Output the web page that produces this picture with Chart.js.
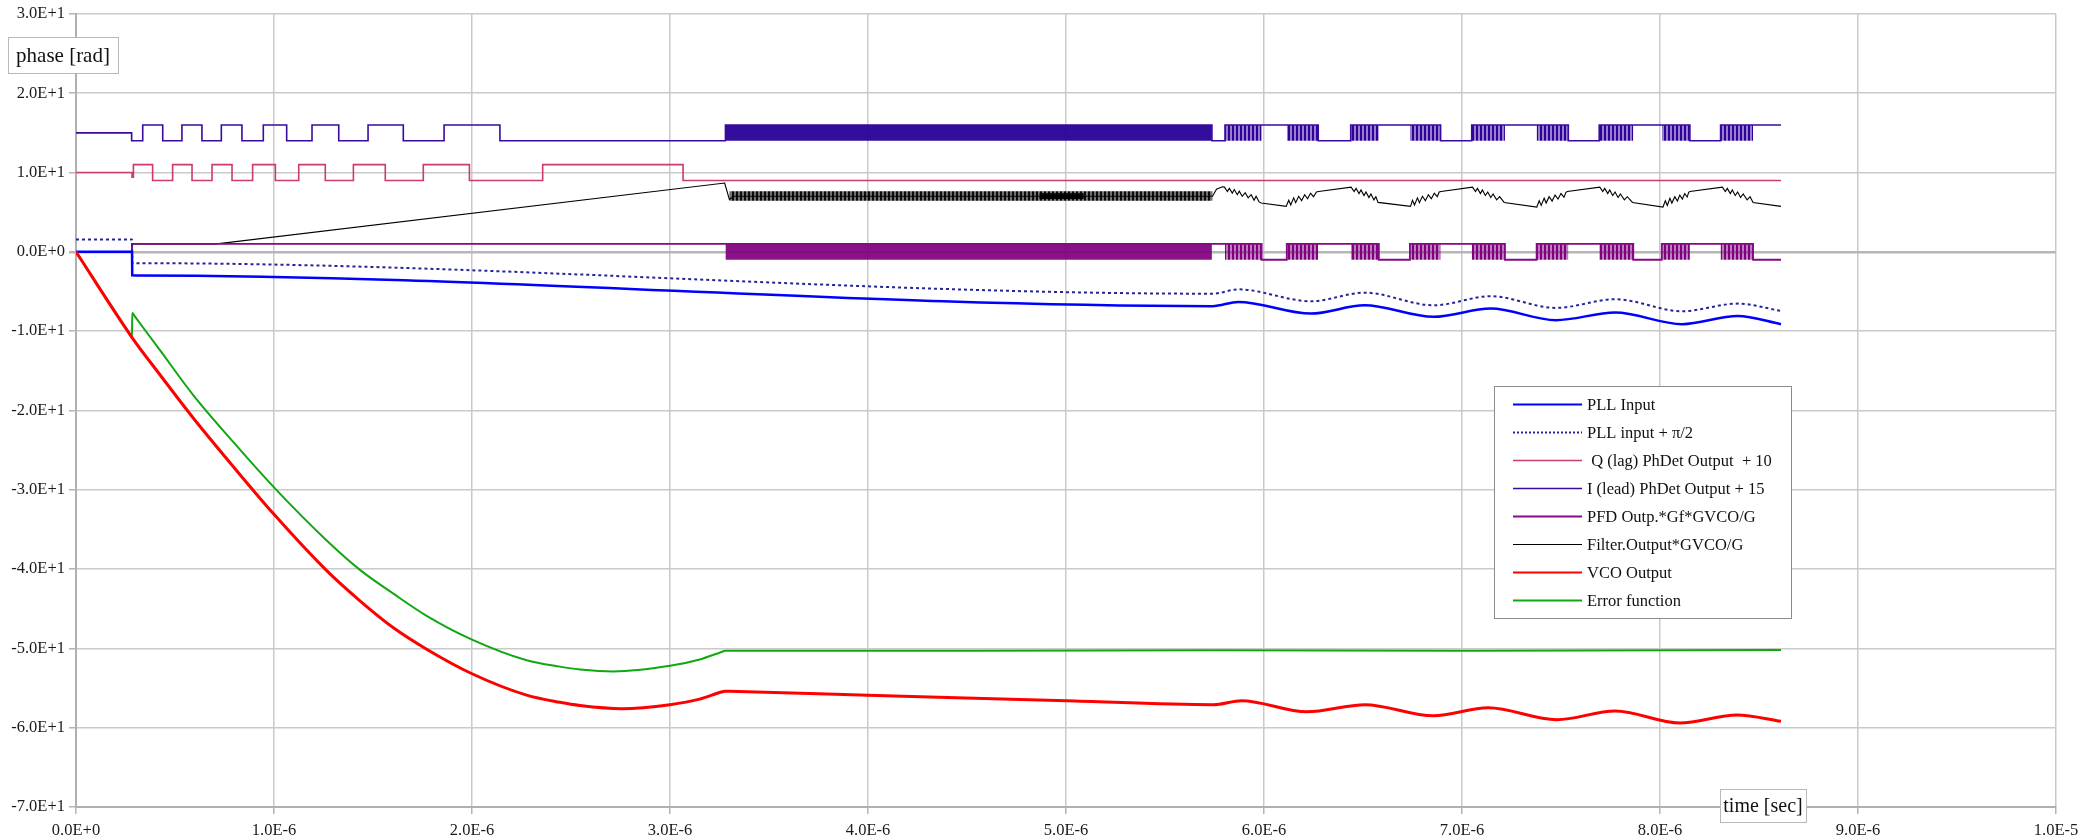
<!DOCTYPE html>
<html>
<head>
<meta charset="utf-8">
<script src="https://cdn.jsdelivr.net/npm/chart.js@4.4.1/dist/chart.umd.min.js"></script>
<style>
  html, body { margin: 0; padding: 0; background: #fff; }
  #wrap { width: 2100px; height: 840px; }
</style>
</head>
<body>
<div id="wrap"><canvas id="myChart"></canvas></div>
<script>
// time values in microseconds, phase in rad

// axis ticks
const xTicks = [0, 1, 2, 3, 4, 5, 6, 7, 8, 9, 10];
const yTicks = [30, 20, 10, 0, -10, -20, -30, -40, -50, -60, -70];

// PLL Input
const pllT = [0, 0.283, 0.284, 0.30, 5.74, 5.87, 6.237, 6.508, 6.856, 7.145, 7.474, 7.774, 8.112, 8.392, 8.611];
const pllV = [0, 0, -2.96, -2.97, -6.85, -6.32, -7.79, -6.74, -8.2, -7.16, -8.62, -7.66, -9.12, -8.08, -9.12];

// PLL input + pi/2
const pllQT = [0, 0.283, 0.284, 0.30, 5.74, 5.87, 6.237, 6.508, 6.856, 7.145, 7.474, 7.774, 8.112, 8.392, 8.611];
const pllQV = [1.57, 1.57, -1.42, -1.43, -5.28, -4.73, -6.23, -5.15, -6.74, -5.6, -7.07, -5.98, -7.49, -6.53, -7.45];

// Q (lag) phase detector + 10 (value holds until next time)
const qLagT = [0, 0.283, 0.290, 0.387, 0.488, 0.586, 0.687, 0.788, 0.892, 1.007, 1.125, 1.259, 1.401, 1.562, 1.754, 1.987, 2.357, 3.066, 8.611];
const qLagV = [10, 9.4, 11, 9, 11, 9, 11, 9, 11, 9, 11, 9, 11, 9, 11, 9, 11, 9, 9];

// I (lead) phase detector + 15
const iLeadT = [0, 0.281, 0.337, 0.438, 0.535, 0.636, 0.734, 0.838, 0.946, 1.064, 1.192, 1.327, 1.475, 1.653, 1.859, 2.141,
                3.28, 5.737, 5.803, 6.274, 6.438, 6.892, 7.049, 7.537, 7.693, 8.151, 8.306, 8.611];
const iLeadV = [15, 14, 16, 14, 16, 14, 16, 14, 16, 14, 16, 14, 16, 14, 16, 14,
                16, 14, 16, 14, 16, 14, 16, 14, 16, 14, 16, 16];

// PFD output
const pfdT = [0, 0.283, 5.988, 6.115, 6.58, 6.737, 7.217, 7.377, 7.865, 8.009, 8.47, 8.611];
const pfdV = [0, 1, -1, 1, -1, 1, -1, 1, -1, 1, -1, -1];

// fast toggling spans shared by I (lead) and PFD (first one is the long dense run)
const burstStart = [3.28, 5.803, 6.115, 6.438, 6.737, 7.049, 7.377, 7.693, 8.009, 8.306];
const burstEnd   = [5.737, 5.988, 6.274, 6.58, 6.892, 7.217, 7.537, 7.865, 8.151, 8.47];

// Filter output
const filterT = [0, 0.282, 0.283, 0.711, 3.276, 3.30, 3.32, 5.74, 5.76, 5.79, 5.80,
  5.815, 5.825, 5.84, 5.85, 5.865, 5.875, 5.89, 5.905, 5.92, 5.935, 5.95, 5.96, 5.975, 5.986,
  6.112, 6.125, 6.135, 6.15, 6.16, 6.175, 6.19, 6.205, 6.22, 6.235, 6.25, 6.265, 6.276,
  6.44, 6.455, 6.465, 6.48, 6.49, 6.505, 6.515, 6.53, 6.54, 6.555, 6.565, 6.576,
  6.74, 6.75, 6.76, 6.775, 6.785, 6.80, 6.815, 6.83, 6.845, 6.86, 6.875, 6.885, 6.894,
  7.053, 7.068, 7.078, 7.093, 7.103, 7.118, 7.13, 7.145, 7.157, 7.175, 7.19, 7.213,
  7.378, 7.39, 7.40, 7.415, 7.425, 7.44, 7.455, 7.47, 7.485, 7.50, 7.515, 7.525, 7.532,
  7.696, 7.711, 7.721, 7.736, 7.746, 7.761, 7.773, 7.788, 7.80, 7.82, 7.835, 7.861,
  8.015, 8.027, 8.037, 8.05, 8.06, 8.075, 8.088, 8.10, 8.113, 8.125, 8.137, 8.145, 8.151,
  8.315, 8.33, 8.34, 8.355, 8.365, 8.38, 8.392, 8.407, 8.42, 8.44, 8.455, 8.47, 8.611];
const filterV = [0, 0, 1, 1, 8.67, 6.6, 7.0, 7.0, 7.9, 8.2, 8.16,
  7.6, 8.0, 7.4, 7.85, 7.2, 7.65, 7.0, 7.45, 6.8, 7.2, 6.5, 7.0, 6.3, 6.15,
  5.73, 6.5, 5.9, 6.8, 6.2, 7.0, 6.45, 7.2, 6.7, 7.4, 6.95, 7.55, 7.6,
  8.16, 7.6, 8.0, 7.35, 7.8, 7.1, 7.55, 6.85, 7.3, 6.55, 6.95, 6.23,
  5.73, 6.5, 5.9, 6.8, 6.2, 7.0, 6.45, 7.2, 6.7, 7.4, 6.95, 7.55, 7.6,
  8.16, 7.6, 8.0, 7.35, 7.8, 7.1, 7.55, 6.85, 7.3, 6.55, 6.95, 6.23,
  5.65, 6.45, 5.85, 6.75, 6.15, 6.95, 6.4, 7.15, 6.65, 7.35, 6.9, 7.5, 7.6,
  8.16, 7.6, 8.0, 7.35, 7.8, 7.1, 7.55, 6.85, 7.3, 6.55, 6.95, 6.23,
  5.65, 6.45, 5.85, 6.75, 6.15, 6.95, 6.4, 7.15, 6.65, 7.35, 6.9, 7.5, 7.6,
  8.16, 7.6, 8.0, 7.35, 7.8, 7.1, 7.55, 6.85, 7.3, 6.55, 6.95, 6.23, 5.73];

// noisy part of the filter output: span, upper and lower level
const filterBandStart = [3.30, 4.865];
const filterBandEnd = [5.74, 5.09];
const filterBandTop = [7.65, 7.4];
const filterBandBottom = [6.45, 6.65];

// VCO Output
const vcoT = [0, 0.284, 0.424, 0.593, 0.795, 1.0, 1.266, 1.434, 1.603, 1.771, 2.0, 2.276, 2.444, 2.545, 2.756, 3.0, 3.15, 3.26, 3.278, 3.30,
              4.0, 5.0, 5.744, 5.887, 6.216, 6.51, 6.855, 7.133, 7.478, 7.774, 8.1, 8.39, 8.611];
const vcoV = [0, -10.84, -15.5, -20.98, -27.1, -33.1, -40.2, -44.0, -47.4, -50.1, -53.2, -55.9, -56.8, -57.2, -57.6, -57.1, -56.4, -55.5, -55.4, -55.42,
              -55.9, -56.6, -57.1, -56.6, -58.0, -57.1, -58.5, -57.5, -59.0, -57.9, -59.4, -58.4, -59.2];

// Error function
const errT = [0, 0.275, 0.283, 0.284, 0.30, 0.424, 0.593, 0.795, 1.0, 1.266, 1.434, 1.603, 1.771, 2.0, 2.276, 2.444, 2.545, 2.714, 3.0, 3.15, 3.26, 3.278, 3.30, 4.5, 5.75, 7.0, 8.611];
const errV = [0, -10.5, -10.8, -7.7, -8.24, -12.4, -18.1, -24.0, -29.7, -36.4, -40.1, -43.1, -45.9, -48.9, -51.5, -52.3, -52.65, -52.9, -52.2, -51.4, -50.45, -50.3, -50.3, -50.3, -50.25, -50.3, -50.2];

const pts = (ts, vs) => ts.map((t, i) => ({ x: t, y: vs[i] }));
const bandPts = (starts, ends, top) => {
  const out = [];
  starts.forEach((s, i) => {
    const lv = Array.isArray(top) ? top[i] : top;
    out.push({ x: s, y: lv }, { x: ends[i], y: lv }, { x: ends[i] + 0.0001, y: null });
  });
  return out;
};

// striped fill that looks like fast toggling
function stripes(color, light) {
  const c = document.createElement('canvas');
  c.width = 4; c.height = 4;
  const g = c.getContext('2d');
  g.fillStyle = light;
  g.fillRect(0, 0, 4, 4);
  g.fillStyle = color;
  g.fillRect(0, 0, 2, 4);
  return g.createPattern(c, 'repeat');
}

const FONT = '"Liberation Serif", "DejaVu Serif", serif';

const series = [
  { label: 'PLL Input', color: '#0000ff', width: 2.5, dash: [] },
  { label: 'PLL input + \u03c0/2', color: '#24249a', width: 2, dash: [3, 3] },
  { label: ' Q (lag) PhDet Output  + 10', color: '#cc3a70', width: 1.6, dash: [] },
  { label: 'I (lead) PhDet Output + 15', color: '#3a0aa0', width: 1.6, dash: [] },
  { label: 'PFD Outp.*Gf*GVCO/G', color: '#850a85', width: 1.8, dash: [] },
  { label: 'Filter.Output*GVCO/G', color: '#000000', width: 1.1, dash: [] },
  { label: 'VCO Output', color: '#ff0000', width: 3, dash: [] },
  { label: 'Error function', color: '#10a810', width: 2, dash: [] }
];

function lineDs(idx, data, extra) {
  const s = series[idx];
  return Object.assign({
    label: s.label,
    data: data,
    borderColor: s.color,
    borderWidth: s.width,
    borderDash: s.dash,
    pointRadius: 0,
    fill: false,
    tension: 0
  }, extra || {});
}

function bandDs(data, bg, base, order) {
  return { label: 'band', data: data, borderWidth: 0, pointRadius: 0, backgroundColor: bg,
           fill: { value: base }, spanGaps: false, order: order };
}

const denseS = burstStart.slice(0, 1), denseE = burstEnd.slice(0, 1);
const shortS = burstStart.slice(1), shortE = burstEnd.slice(1);

const datasets = [
  lineDs(6, pts(vcoT, vcoV), { cubicInterpolationMode: 'monotone', order: 0 }),
  lineDs(7, pts(errT, errV), { cubicInterpolationMode: 'monotone', order: 1 }),
  lineDs(0, pts(pllT, pllV), { cubicInterpolationMode: 'monotone', order: 2 }),
  lineDs(1, pts(pllQT, pllQV), { cubicInterpolationMode: 'monotone', order: 3 }),
  lineDs(4, pts(pfdT, pfdV), { stepped: true, order: 4 }),
  bandDs(bandPts(denseS, denseE, 1), 'rgba(128,0,128,0.93)', -1, 5),
  bandDs(bandPts(shortS, shortE, 1), stripes('#800080', 'rgba(128,0,128,0.5)'), -1, 5),
  lineDs(5, pts(filterT, filterV), { order: 6 }),
  bandDs(bandPts(filterBandStart.slice(0, 1), filterBandEnd.slice(0, 1), filterBandTop.slice(0, 1)), stripes('rgba(0,0,0,0.9)', 'rgba(0,0,0,0.55)'), filterBandBottom[0], 7),
  bandDs(bandPts(filterBandStart.slice(1), filterBandEnd.slice(1), filterBandTop.slice(1)), 'rgba(0,0,0,0.95)', filterBandBottom[1], 7),
  lineDs(3, pts(iLeadT, iLeadV), { stepped: true, order: 8 }),
  bandDs(bandPts(denseS, denseE, 16), 'rgba(40,0,150,0.95)', 14, 9),
  bandDs(bandPts(shortS, shortE, 16), stripes('#30009a', 'rgba(48,0,154,0.5)'), 14, 9),
  lineDs(2, pts(qLagT, qLagV), { stepped: true, order: 10 })
];

// boxes for axis titles and the legend
const boxesPlugin = {
  id: 'boxes',
  afterDraw(chart) {
    const ctx = chart.ctx;
    ctx.save();
    function textBox(text, x, y, w, h, size) {
      ctx.fillStyle = '#ffffff';
      ctx.fillRect(x, y, w, h);
      ctx.strokeStyle = '#b8b8b8';
      ctx.lineWidth = 1;
      ctx.strokeRect(x + 0.5, y + 0.5, w, h);
      ctx.fillStyle = '#111';
      ctx.font = size + 'px ' + FONT;
      ctx.textBaseline = 'middle';
      ctx.textAlign = 'center';
      ctx.fillText(text, x + w / 2, y + h / 2 + 1);
    }
    textBox('phase [rad]', 8, 37, 110, 36, 21);
    textBox('time [sec]', 1720, 789, 86, 33, 20);

    // legend
    const lx = 1494, ly = 386, lw = 297, lh = 232;
    ctx.fillStyle = '#ffffff';
    ctx.fillRect(lx, ly, lw, lh);
    ctx.strokeStyle = '#8c8c8c';
    ctx.lineWidth = 1;
    ctx.strokeRect(lx + 0.5, ly + 0.5, lw, lh);
    ctx.font = '16.5px ' + FONT;
    ctx.textAlign = 'left';
    ctx.textBaseline = 'middle';
    series.forEach((s, i) => {
      const y = 404.5 + i * 28;
      ctx.beginPath();
      ctx.strokeStyle = s.color;
      ctx.lineWidth = Math.min(s.width, 2.2);
      ctx.setLineDash(s.dash.length ? [2, 2] : []);
      ctx.moveTo(1513, y);
      ctx.lineTo(1582, y);
      ctx.stroke();
      ctx.setLineDash([]);
      ctx.fillStyle = '#111';
      ctx.fillText(s.label, 1587, y + 1);
    });
    ctx.restore();
  }
};

const config = {
  type: 'line',
  data: { datasets: datasets },
  options: {
    responsive: true,
    maintainAspectRatio: false,
    animation: false,
    layout: { padding: { left: 0, right: 44, top: 11, bottom: 0 } },
    plugins: {
      legend: { display: false },
      tooltip: { enabled: false }
    },
    scales: {
      x: {
        type: 'linear',
        min: 0,
        max: 10,
        afterFit: (s) => { s.height = 33; },
        afterBuildTicks: (s) => { s.ticks = xTicks.map(v => ({ value: v })); },
        ticks: {
          autoSkip: false,
          maxRotation: 0,
          padding: 7,
          color: '#1a1a1a',
          font: { family: FONT, size: 16.5 },
          callback: (v) => (v * 1e-6).toExponential(1).toUpperCase()
        },
        grid: { color: '#cacaca', lineWidth: 1.5, tickLength: 7, tickColor: '#b4b4b4' },
        border: { color: '#b0b0b0', width: 2 }
      },
      y: {
        type: 'linear',
        min: -70,
        max: 30,
        afterFit: (s) => { s.width = 76; },
        afterBuildTicks: (s) => { s.ticks = yTicks.map(v => ({ value: v })); },
        ticks: {
          padding: 4,
          color: '#1a1a1a',
          font: { family: FONT, size: 16.5 },
          callback: (v) => Number(v).toExponential(1).toUpperCase()
        },
        grid: {
          color: (c) => (c.tick && c.tick.value === 0 ? '#b6b6b6' : '#cacaca'),
          lineWidth: (c) => (c.tick && c.tick.value === 0 ? 2.5 : 1.5),
          tickLength: 7,
          tickColor: '#b4b4b4'
        },
        border: { color: '#b0b0b0', width: 2 }
      }
    }
  },
  plugins: [boxesPlugin]
};

new Chart(document.getElementById('myChart'), config);
</script>
</body>
</html>
